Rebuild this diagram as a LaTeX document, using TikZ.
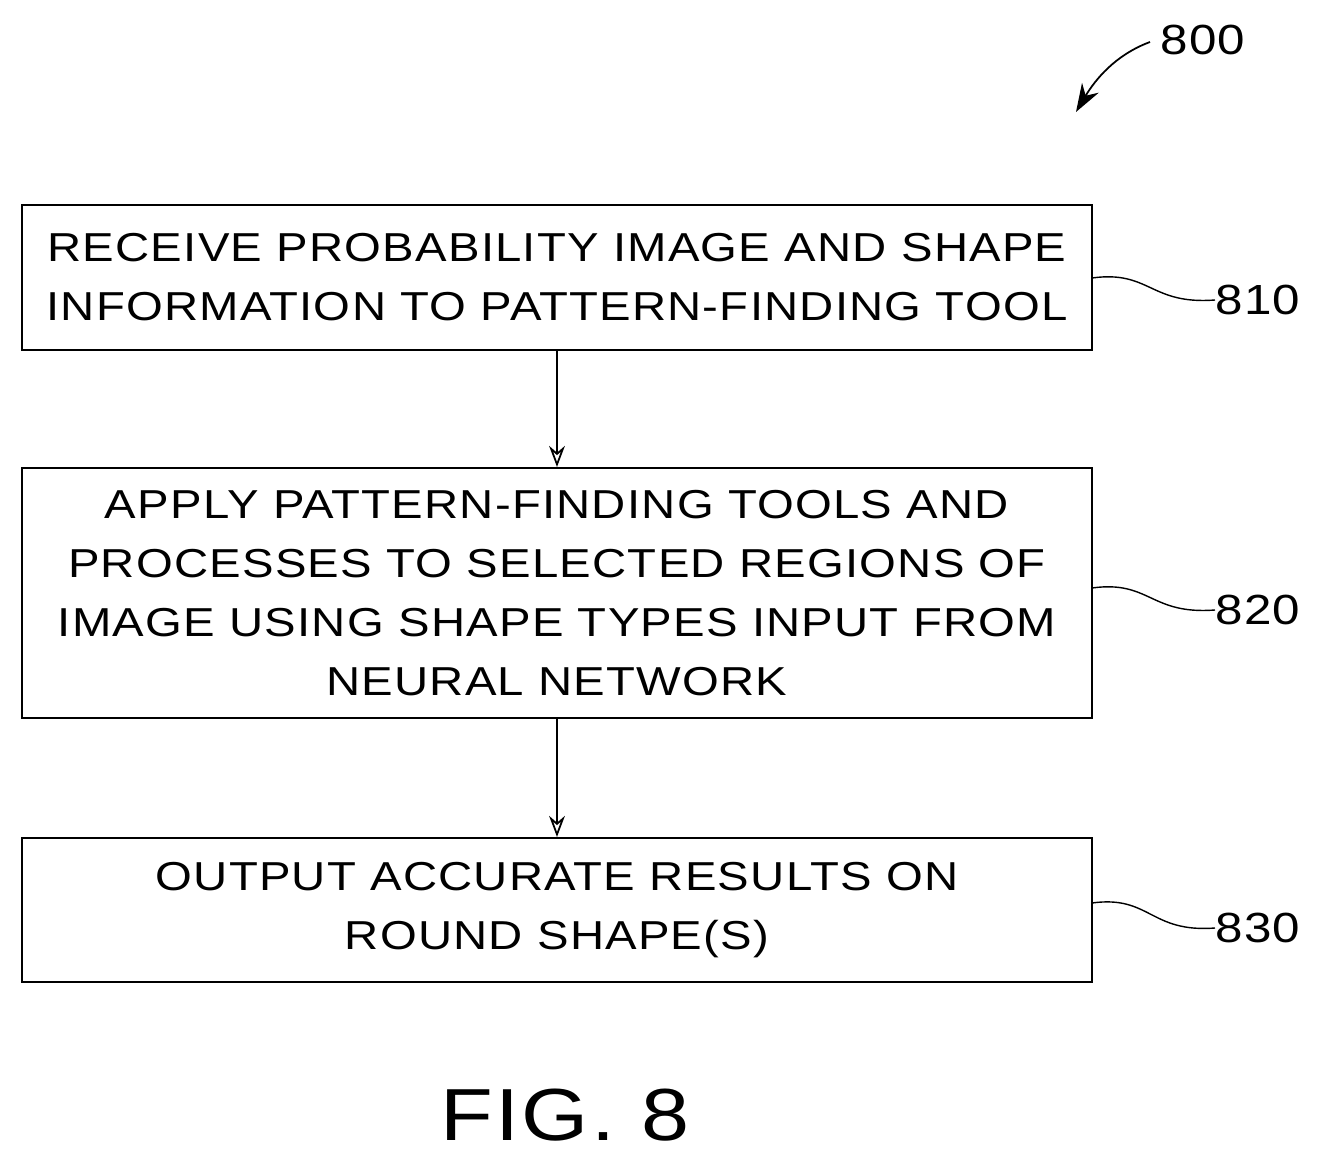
\documentclass[tikz,border=0pt]{standalone}
\usepackage{fontspec}
\setmainfont{Liberation Sans}[FakeStretch=1.17,LetterSpace=3]
\usetikzlibrary{arrows.meta}
\begin{document}
\begin{tikzpicture}[x=0.02cm,y=-0.02cm,
  box/.style={draw,line width=1.2pt,minimum width=21.4cm,align=center,inner sep=0pt,
    font=\fontsize{23}{33.5}\selectfont},
  arr/.style={line width=1pt,-{Stealth[length=12pt,width=9pt,open]}},
  lbl/.style={font=\fontsize{24}{28}\selectfont,anchor=west,inner sep=0pt},
  sq/.style={line width=0.8pt}]
\useasboundingbox (0,0) rectangle (1320,1165);
\node[box,minimum height=2.9cm] (b810) at (557,277.5) {RECEIVE PROBABILITY IMAGE AND SHAPE\\INFORMATION TO PATTERN-FINDING TOOL};
\node[box,minimum height=5cm] (b820) at (557,593) {APPLY PATTERN-FINDING TOOLS AND\\PROCESSES TO SELECTED REGIONS OF\\IMAGE USING SHAPE TYPES INPUT FROM\\NEURAL NETWORK};
\node[box,minimum height=2.88cm] (b830) at (557,910) {OUTPUT ACCURATE RESULTS ON\\ROUND SHAPE(S)};
\draw[arr] (b810) -- (b820);
\draw[arr] (b820) -- (b830);
\node[lbl] (l810) at (1215,300) {810};
\node[lbl] (l820) at (1215,610) {820};
\node[lbl] (l830) at (1215,928) {830};
\coordinate (c810) at (1092,278);
\coordinate (c820) at (1092,588);
\coordinate (c830) at (1092,903);
\draw[sq] (c810) .. controls (1150,270) and (1150,305) .. (l810.west);
\draw[sq] (c820) .. controls (1150,580) and (1150,615) .. (l820.west);
\draw[sq] (c830) .. controls (1150,895) and (1150,933) .. (l830.west);
\node[lbl] (l800) at (1160,40) {800};
\coordinate (e800) at (1076,112);
\draw[line width=1pt,-{Stealth[length=16pt,width=11pt]}] (1150,42) .. controls (1115,55) and (1095,80) .. (e800);
\node[font=\fontsize{42}{50}\selectfont] (fig) at (565,1115) {FIG. 8};
\end{tikzpicture}
\end{document}
